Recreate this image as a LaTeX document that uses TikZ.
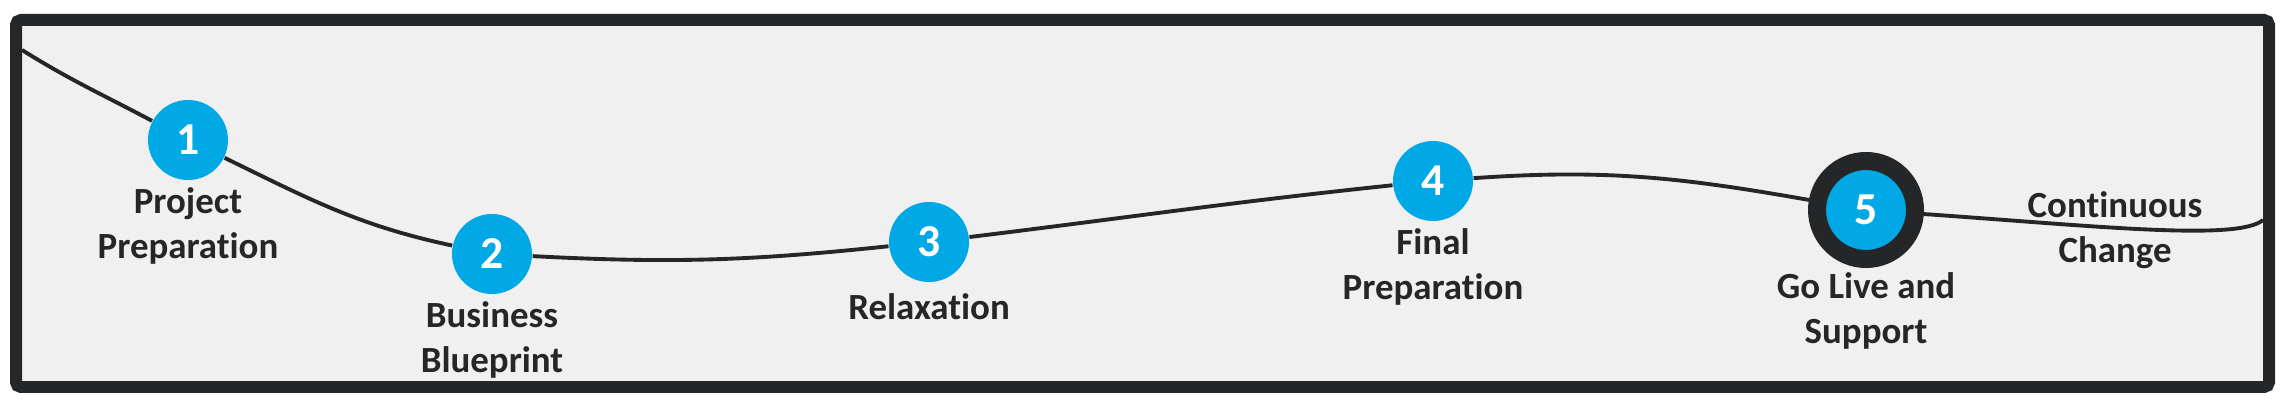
\documentclass[tikz,border=0pt]{standalone}
\usepackage{fontspec}
\setmainfont{Carlito}[Ligatures=NoCommon]
\definecolor{frameGray}{RGB}{37,38,40}
\definecolor{paneGray}{RGB}{240,240,240}
\definecolor{stepBlue}{RGB}{0,169,230}
\definecolor{textGray}{RGB}{38,38,38}
\tikzstyle{stepCircle} = [shape=circle, fill=stepBlue, text=white, inner sep=0pt,
	minimum size=0.8cm, font=\fontsize{13}{15}\selectfont\bfseries]
\tikzstyle{liveCircle} = [stepCircle, draw=frameGray, line width=0.18cm,
	minimum size=0.98cm]
\tikzstyle{stepLabel} = [text=textGray, align=center, inner sep=0pt,
	font=\fontsize{10.5}{12.8}\selectfont\bfseries]
\tikzstyle{roadLine} = [draw=frameGray, line width=1.1pt]

\begin{document}
\begin{tikzpicture}[node distance=0.86cm]
  \useasboundingbox (0,0) rectangle (22.86,4.07);
  \draw[frameGray, fill=paneGray, line width=0.12cm, rounded corners=0.05cm]
    (0.16,0.20) rectangle (22.69,3.87);

  \node (PP) [stepCircle] at (1.88,2.67) {1};
  \node (BB) [stepCircle] at (4.92,1.53) {2};
  \node (RX) [stepCircle] at (9.29,1.65) {3};
  \node (FP) [stepCircle] at (14.33,2.26) {4};
  \node (GL) [liveCircle] at (18.66,1.97) {5};

  \coordinate (start) at (0.22,3.57);
  \coordinate (end) at (22.63,1.87);

  \path[roadLine] (start) to[out=-32, in=152] (PP)
    (PP) to[out=-26, in=168] (BB)
    (BB) to[out=-3, in=186] (RX)
    (RX) to[out=7, in=186] (FP)
    (FP) to[out=4, in=170] (GL)
    (GL) to[out=-4, in=220, out looseness=1.3, in looseness=0.25] (end);

  \node (pp) [stepLabel, below of=PP] {Project\\Preparation};
  \node (bb) [stepLabel, below of=BB] {Business\\Blueprint};
  \node (rx) [stepLabel, below of=RX, yshift=0.21cm] {Relaxation};
  \node (fp) [stepLabel, below of=FP] {Final\\Preparation};
  \node (gl) [stepLabel, below of=GL, yshift=-0.15cm] {Go Live and\\Support};
  \node (cc) [stepLabel] at (21.15,1.77) {Continuous\\Change};

\end{tikzpicture}
\end{document}
